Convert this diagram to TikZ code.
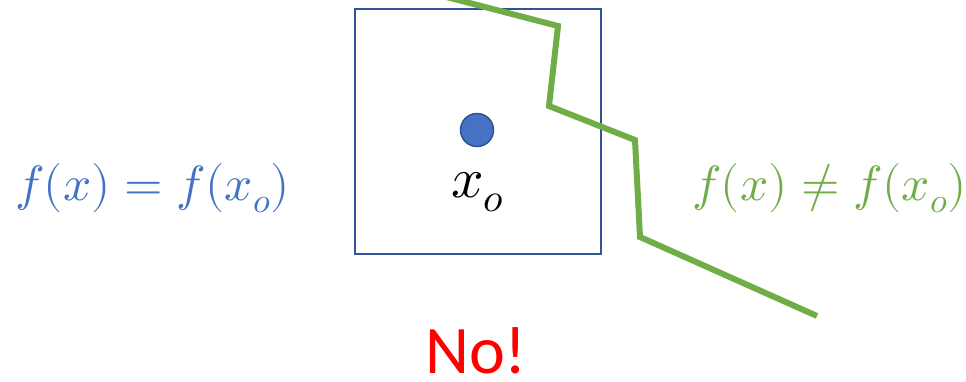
\documentclass[tikz,border=0pt]{standalone}
\usepackage{unicode-math}
\setmathfont{Latin Modern Math}
\newfontfamily\nofont{Carlito}
\definecolor{boxblue}{HTML}{2F5597}
\definecolor{dotblue}{HTML}{4472C4}
\definecolor{dotedge}{HTML}{2F528F}
\definecolor{lgreen}{HTML}{70AD47}
\definecolor{nored}{HTML}{FF0000}
\tikzset{
  frame/.style={draw=boxblue, line width=2pt, minimum width=246pt, minimum height=245pt, inner sep=0pt, anchor=north west},
  point/.style={circle, fill=dotblue, draw=dotedge, line width=1.5pt, minimum size=33pt, inner sep=0pt},
  formula/.style={inner sep=0pt, anchor=base west, font=\fontsize{49.5}{58}\selectfont},
  zigzag/.style={draw=lgreen, line width=6pt, line join=miter}
}
\begin{document}
\begin{tikzpicture}[x=1pt,y=-1pt]
\useasboundingbox (0,0) rectangle (966,381);
\node[frame] (box) at (354,8) {};
\node[point] (dot) at (477,130) {};
\node[inner sep=0pt, anchor=base west, font=\fontsize{57}{66}\selectfont] (xo) at (451,197) {$x_o$};
\node[formula, text=dotblue] (eq) at (15,200) {$f(x)=f(x_o)$};
\node[formula, text=lgreen] (neq) at (692,200) {$f(x)\neq f(x_o)$};
\node[inner sep=0pt, anchor=base west, text=nored, font=\nofont\fontsize{68}{80}\selectfont] (no) at (425,373) {No!};
\coordinate (g0) at (438,-5.2);
\coordinate (g1) at (558,26);
\coordinate (g2) at (549,106);
\coordinate (g3) at (635,140);
\coordinate (g4) at (640,237);
\coordinate (g5) at (817,316);
\begin{scope}
\clip (0,0) rectangle (966,381);
\draw[zigzag] (g0) -- (g1) -- (g2) -- (g3) -- (g4) -- (g5);
\end{scope}
\end{tikzpicture}
\end{document}
